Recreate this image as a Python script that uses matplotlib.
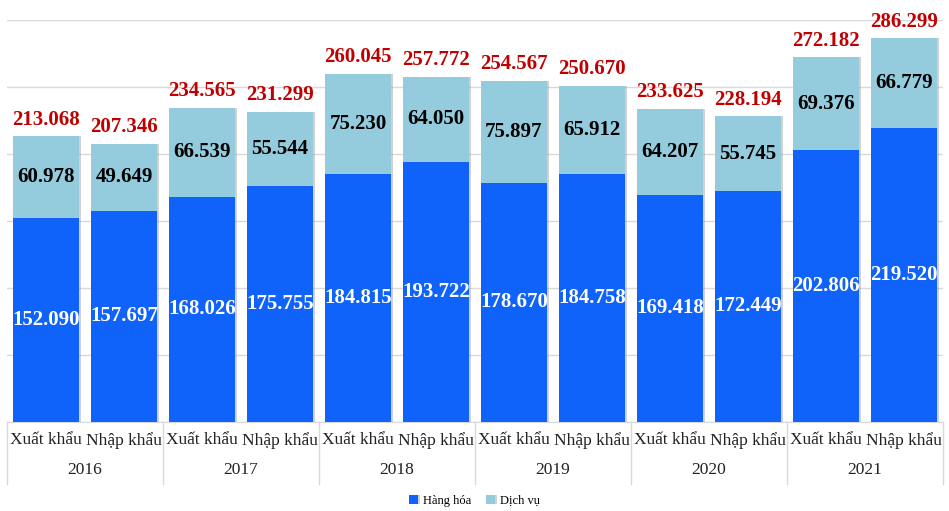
import matplotlib.pyplot as plt
import matplotlib.transforms as mtransforms
import matplotlib.patheffects as pe
import numpy as np

plt.rcParams['font.family'] = ['Liberation Serif', 'DejaVu Serif']

years = ['2016', '2017', '2018', '2019', '2020', '2021']
flows = ['Xuất khẩu', 'Nhập khẩu']
hang_hoa = [152.090, 157.697, 168.026, 175.755, 184.815, 193.722,
            178.670, 184.758, 169.418, 172.449, 202.806, 219.520]
dich_vu = [60.978, 49.649, 66.539, 55.544, 75.230, 64.050,
           75.897, 65.912, 64.207, 55.745, 69.376, 66.779]
tong = [213.068, 207.346, 234.565, 231.299, 260.045, 257.772,
        254.567, 250.670, 233.625, 228.194, 272.182, 286.299]

def fmt(v):
    return f'{v:.3f}'

fig = plt.figure(figsize=(9.49, 5.11), dpi=100)
ax = fig.add_axes([7 / 949, 89 / 511, 936 / 949, 402 / 511])

x = np.arange(len(hang_hoa))
shadow = [pe.SimplePatchShadow(offset=(1.5, 0), shadow_rgbFace='#999999', alpha=0.45), pe.Normal()]
b1 = ax.bar(x, hang_hoa, width=0.85, color='#0F62FA', label='Hàng hóa', zorder=3)
b2 = ax.bar(x, dich_vu, width=0.85, bottom=hang_hoa, color='#94CCDD', label='Dịch vụ', zorder=3)
for b in list(b1) + list(b2):
    b.set_path_effects(shadow)

for i in x:
    ax.text(i, hang_hoa[i] / 2, fmt(hang_hoa[i]), ha='center', va='center',
            color='white', fontsize=15, fontweight='bold', zorder=4)
    ax.text(i, hang_hoa[i] + dich_vu[i] / 2, fmt(dich_vu[i]), ha='center', va='center',
            color='black', fontsize=15, fontweight='bold', zorder=4)
    ax.text(i, tong[i] + 5, fmt(tong[i]), ha='center', va='bottom',
            color='#C00000', fontsize=15, fontweight='bold', zorder=4)

ax.set_xlim(-0.5, len(x) - 0.5)
ax.set_ylim(0, 300)
ax.set_yticks(np.arange(0, 301, 50))
ax.yaxis.grid(True, color='#D9D9D9', linewidth=1, zorder=0)
ax.set_axisbelow(True)
ax.tick_params(left=False, labelleft=False, bottom=False, labelbottom=False)
for s in ['top', 'right', 'left']:
    ax.spines[s].set_visible(False)
ax.spines['bottom'].set_color('#D9D9D9')

# two-level category axis
trans = mtransforms.blended_transform_factory(ax.transData, ax.transAxes)
for i in x:
    ax.text(i, -0.045, flows[i % 2], transform=trans, ha='center', va='center',
            fontsize=12.5, color='#222222')
for k, yr in enumerate(years):
    ax.text(2 * k + 0.5, -0.12, yr, transform=trans, ha='center', va='center',
            fontsize=12.5, color='#222222')
for k in range(len(years) + 1):
    ax.plot([2 * k - 0.5, 2 * k - 0.5], [0, -0.153], transform=trans,
            color='#D9D9D9', linewidth=1, clip_on=False)

fig.legend(handles=[b1, b2], loc='center', bbox_to_anchor=(0.5, 10 / 511), ncol=2,
           frameon=False, fontsize=9, handlelength=0.7, handleheight=0.7,
           columnspacing=1.2, handletextpad=0.4)

fig.savefig('out.png', dpi=100)
